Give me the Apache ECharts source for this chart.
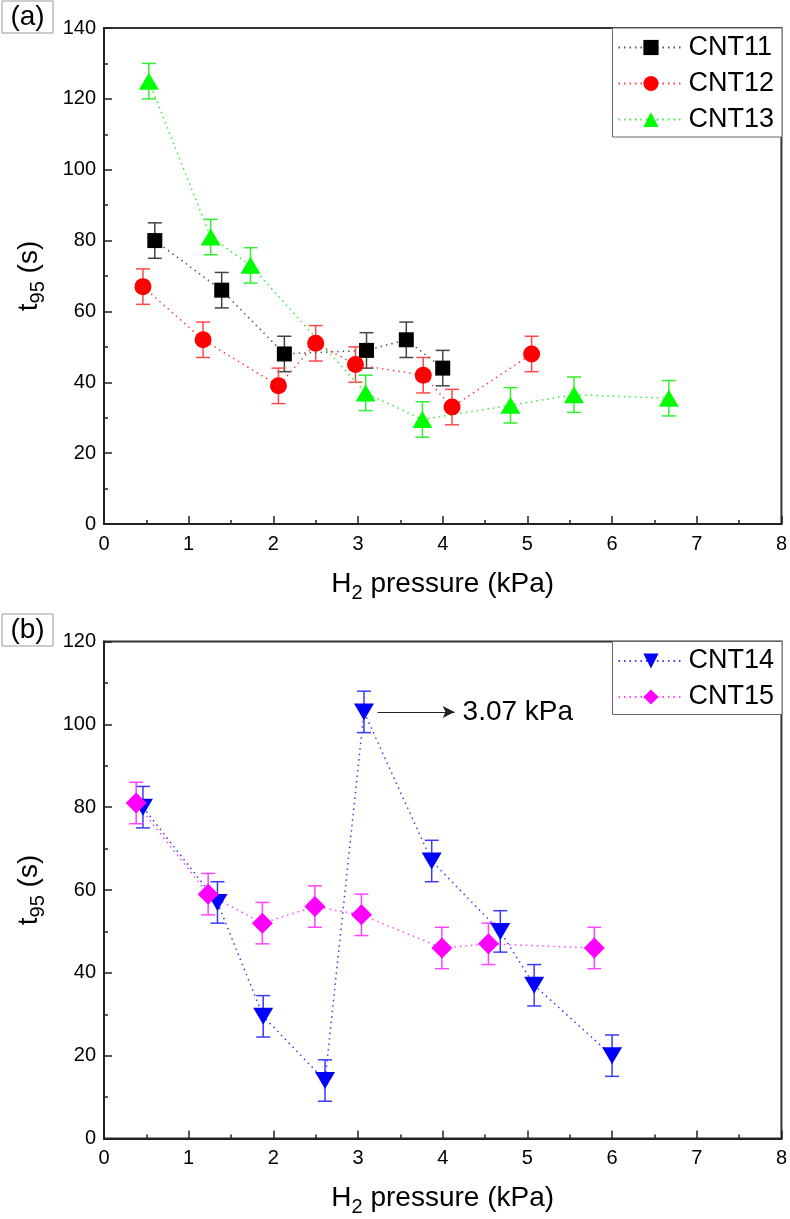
<!DOCTYPE html>
<html>
<head>
<meta charset="utf-8">
<script src="https://cdn.jsdelivr.net/npm/echarts@6.0.0/dist/echarts.min.js"></script>
<style>
  html, body { margin: 0; padding: 0; background: #fff; }
  #chart { width: 790px; height: 1219px; }
</style>
</head>
<body>
<div id="chart"></div>
<script>
// panel (a)
const pressure11 = [0.60, 1.39, 2.13, 3.10, 3.57, 4.00];
const t95_11 = [80, 66, 48, 49, 52, 44];
const err11 = [5, 5, 5, 5, 5, 5];

const pressure12 = [0.46, 1.17, 2.06, 2.50, 2.97, 3.77, 4.11, 5.05];
const t95_12 = [67, 52, 39, 51, 45, 42, 33, 48];
const err12 = [5, 5, 5, 5, 5, 5, 5, 5];

const pressure13 = [0.53, 1.26, 1.73, 3.09, 3.76, 4.80, 5.55, 6.67];
const t95_13 = [125, 81, 73, 37, 29.5, 33.5, 36.5, 35.5];
const err13 = [5, 5, 5, 5, 5, 5, 5, 5];

// panel (b)
const pressure14 = [0.46, 1.34, 1.88, 2.61, 3.07, 3.87, 4.68, 5.08, 6.00];
const t95_14 = [80, 57, 29.5, 14, 103, 67, 50, 37, 20];
const err14 = [5, 5, 5, 5, 5, 5, 5, 5, 5];

const pressure15 = [0.38, 1.23, 1.87, 2.49, 3.04, 3.99, 4.54, 5.79];
const t95_15 = [81, 59, 52, 56, 54, 46, 47, 46];
const err15 = [5, 5, 5, 5, 5, 5, 5, 5];

// arrow annotation in panel (b)
const annoText = '3.07 kPa';
const annoStartX = 3.23;
const annoEndX = 4.14;
const annoY = 103;

const FONT = 'Liberation Sans, Arial, sans-serif';
const DOTS = [1.5, 4];

function pairs(xs, ys) { return xs.map((x, i) => [x, ys[i]]); }
function triples(xs, ys, es) { return xs.map((x, i) => [x, ys[i], es[i]]); }

function errSeries(name, idx, xs, ys, es, color) {
  return {
    name: name + ' err',
    type: 'custom',
    xAxisIndex: idx,
    yAxisIndex: idx,
    z: 1,
    silent: true,
    data: triples(xs, ys, es),
    encode: { x: 0, y: 1 },
    renderItem: function (params, api) {
      const x = api.value(0), y = api.value(1), e = api.value(2);
      const top = api.coord([x, y + e]);
      const bot = api.coord([x, y - e]);
      const half = 7;
      const st = { stroke: color, lineWidth: 1.5 };
      return {
        type: 'group',
        children: [
          { type: 'line', shape: { x1: top[0], y1: top[1], x2: bot[0], y2: bot[1] }, style: st },
          { type: 'line', shape: { x1: top[0] - half, y1: top[1], x2: top[0] + half, y2: top[1] }, style: st },
          { type: 'line', shape: { x1: bot[0] - half, y1: bot[1], x2: bot[0] + half, y2: bot[1] }, style: st }
        ]
      };
    }
  };
}

function lineSeries(name, idx, xs, ys, symbol, size, rotate, color, lineColor) {
  return {
    name: name,
    type: 'line',
    xAxisIndex: idx,
    yAxisIndex: idx,
    z: 3,
    data: pairs(xs, ys),
    symbol: symbol,
    symbolSize: size,
    symbolRotate: rotate,
    itemStyle: { color: color },
    lineStyle: { type: DOTS, width: 1.5, color: lineColor },
    emphasis: { disabled: true }
  };
}

const richName = {
  m: { fontSize: 28, fontFamily: FONT, color: '#000', verticalAlign: 'bottom', padding: [0, 0, 5, 0] },
  s: { fontSize: 20, fontFamily: FONT, color: '#000', verticalAlign: 'bottom' }
};

function xAxis(idx) {
  return {
    gridIndex: idx,
    type: 'value',
    min: 0, max: 8, interval: 1,
    name: '{m|H}{s|2}{m| pressure (kPa)}',
    nameLocation: 'middle',
    nameGap: 46,
    nameTextStyle: { rich: richName },
    axisLine: { show: true, lineStyle: { color: '#222', width: 2 } },
    axisTick: { show: true, inside: true, length: 8, lineStyle: { color: '#222', width: 1.5 } },
    minorTick: { show: true, splitNumber: 2, length: 4, lineStyle: { color: '#222', width: 1.5 } },
    axisLabel: { fontSize: 20, fontFamily: FONT, color: '#000', margin: 10 },
    splitLine: { show: false }
  };
}

function yAxis(idx, max) {
  return {
    gridIndex: idx,
    type: 'value',
    min: 0, max: max, interval: 20,
    name: '{m|t}{s|95}{m| (s)}',
    nameLocation: 'middle',
    nameRotate: 90,
    nameGap: 56,
    nameTextStyle: { rich: richName },
    axisLine: { show: true, lineStyle: { color: '#222', width: 2 } },
    axisTick: { show: true, inside: true, length: 8, lineStyle: { color: '#222', width: 1.5 } },
    minorTick: { show: true, splitNumber: 2, length: 4, lineStyle: { color: '#222', width: 1.5 } },
    axisLabel: { fontSize: 20, fontFamily: FONT, color: '#000', margin: 8 },
    splitLine: { show: false }
  };
}

function legend(names, top) {
  return {
    data: names,
    orient: 'vertical',
    right: 8,
    top: top,
    itemWidth: 65,
    itemHeight: 19,
    itemGap: 9,
    padding: [6, 8, 4, 5],
    borderColor: '#666',
    borderWidth: 1,
    backgroundColor: '#fff',
    selectedMode: false,
    textStyle: { fontSize: 27, fontFamily: FONT, color: '#000', lineHeight: 26 }
  };
}

const chart = echarts.init(document.getElementById('chart'), null, { renderer: 'canvas' });

const cnt14 = lineSeries('CNT14', 1, pressure14, t95_14, 'triangle', [20, 17], 180, '#0000ff', '#3b3bff');
cnt14.markLine = {
  silent: true,
  animation: false,
  symbol: ['none', 'arrow'],
  symbolSize: [9, 12],
  lineStyle: { color: '#222', type: 'solid', width: 1.2 },
  label: { show: true, position: 'end', formatter: annoText, fontSize: 28, fontFamily: FONT, color: '#000', distance: 8 },
  data: [[{ coord: [annoStartX, annoY] }, { coord: [annoEndX, annoY] }]]
};

const option = {
  animation: false,
  backgroundColor: '#fff',
  grid: [
    { left: 104, right: 8, top: 28, height: 496, show: true, borderColor: '#333', borderWidth: 2, backgroundColor: 'transparent' },
    { left: 104, right: 8, top: 641.5, height: 497, show: true, borderColor: '#333', borderWidth: 2, backgroundColor: 'transparent' }
  ],
  xAxis: [xAxis(0), xAxis(1)],
  yAxis: [yAxis(0, 140), yAxis(1, 120)],
  legend: [
    legend(['CNT11', 'CNT12', 'CNT13'], 28),
    legend(['CNT14', 'CNT15'], 641.5)
  ],
  graphic: [
    { type: 'rect', shape: { x: 2, y: 1, width: 51, height: 32 }, style: { fill: '#fff', stroke: '#999', lineWidth: 1 } },
    { type: 'text', x: 27.5, y: 17.5, style: { text: '(a)', fontSize: 28, fontFamily: FONT, fill: '#000', align: 'center', verticalAlign: 'middle' } },
    { type: 'rect', shape: { x: 2, y: 614, width: 51, height: 32 }, style: { fill: '#fff', stroke: '#999', lineWidth: 1 } },
    { type: 'text', x: 27.5, y: 630.5, style: { text: '(b)', fontSize: 28, fontFamily: FONT, fill: '#000', align: 'center', verticalAlign: 'middle' } }
  ],
  series: [
    errSeries('CNT11', 0, pressure11, t95_11, err11, '#444444'),
    errSeries('CNT12', 0, pressure12, t95_12, err12, '#ff4a4a'),
    errSeries('CNT13', 0, pressure13, t95_13, err13, '#33ee33'),
    lineSeries('CNT11', 0, pressure11, t95_11, 'rect', 15, 0, '#000000', '#555555'),
    lineSeries('CNT12', 0, pressure12, t95_12, 'circle', 17, 0, '#ff0000', '#ff4040'),
    lineSeries('CNT13', 0, pressure13, t95_13, 'triangle', [20, 17], 0, '#00ff00', '#33ee33'),
    errSeries('CNT14', 1, pressure14, t95_14, err14, '#3b3bff'),
    errSeries('CNT15', 1, pressure15, t95_15, err15, '#ff44ff'),
    cnt14,
    lineSeries('CNT15', 1, pressure15, t95_15, 'diamond', [21, 21], 0, '#ff00ff', '#ff44ff')
  ]
};

chart.setOption(option);
</script>
</body>
</html>
